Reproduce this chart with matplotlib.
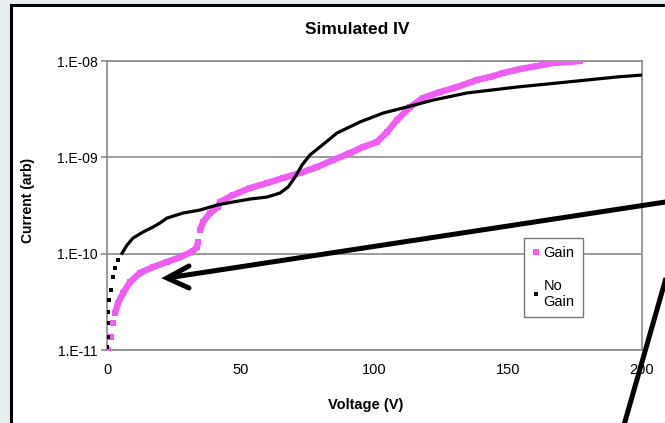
import matplotlib
matplotlib.use("Agg")
import matplotlib.pyplot as plt
from matplotlib.lines import Line2D
from matplotlib.patches import Rectangle
from matplotlib.ticker import FixedLocator, NullLocator
import numpy as np

plt.rcParams['font.family'] = ['Liberation Sans', 'DejaVu Sans']

# Simulated IV sweep: voltage (V) and current (arb)
gain_v = [0.5, 1.5, 2.1, 3.0, 4.1, 6.0, 8.6, 12.3, 17.2, 22.4, 27.3, 32.1, 33.6, 34.0,
          34.8, 35.9, 38.5, 41.5, 42.2, 47.1, 53.5, 59.8, 65.8, 72.1, 78.5, 84.5, 90.8,
          95.7, 100.9, 104.7, 108.4, 113.3, 118.1, 124.5, 130.8, 138.3, 143.2, 148.0,
          154.4, 160.7, 166.7, 173.1, 176.8]
gain_i = [1.0e-11, 1.36e-11, 1.9e-11, 2.4e-11, 3.07e-11, 3.9e-11, 5.07e-11, 6.3e-11,
          7.26e-11, 8.2e-11, 9.2e-11, 1.06e-10, 1.17e-10, 1.32e-10,
          1.76e-10, 2.13e-10, 2.64e-10, 3.05e-10, 3.44e-10, 4.06e-10, 4.8e-10, 5.41e-10,
          6.1e-10, 6.87e-10, 7.93e-10, 9.37e-10, 1.11e-9, 1.28e-9, 1.44e-9, 1.83e-9,
          2.44e-9, 3.33e-9, 4.13e-9, 4.77e-9, 5.37e-9, 6.35e-9, 6.83e-9, 7.5e-9,
          8.26e-9, 8.87e-9, 9.53e-9, 9.76e-9, 1.0e-8]

nogain_v = [0.1, 0.2, 0.3, 0.5, 0.8, 1.5, 2.2, 3.0, 4.1, 5.6, 7.5, 9.7, 13.5, 17.2,
            19.8, 22.4, 28.4, 34.8, 41.1, 47.1, 53.5, 59.8, 64.7, 67.7, 70.3, 72.9,
            75.9, 79.6, 86.0, 94.6, 103.2, 112.1, 121.9, 134.6, 153.3, 172.0, 190.7, 200.4]
nogain_i = [1.07e-11, 1.36e-11, 1.9e-11, 2.48e-11, 3.3e-11, 4.19e-11, 5.71e-11, 7.08e-11,
            8.58e-11, 1.01e-10, 1.23e-10, 1.45e-10, 1.68e-10, 1.89e-10, 2.08e-10,
            2.34e-10, 2.64e-10, 2.84e-10, 3.2e-10, 3.44e-10, 3.69e-10, 3.87e-10,
            4.26e-10, 4.92e-10, 6.24e-10, 8.31e-10, 1.06e-9, 1.28e-9, 1.79e-9, 2.33e-9,
            2.88e-9, 3.33e-9, 3.93e-9, 4.66e-9, 5.37e-9, 6.05e-9, 6.83e-9, 7.16e-9]

x_ticks = [0, 50, 100, 150, 200]
y_ticks = [1e-11, 1e-10, 1e-9, 1e-8]
y_tick_labels = ["1.E-11", "1.E-10", "1.E-09", "1.E-08"]

MAGENTA = "#ee5cf2"
GRID = "#8a8a8a"

W, H = 665, 423
fig = plt.figure(figsize=(W / 100, H / 100), dpi=100)
fig.patch.set_facecolor("#e8edf1")


def fx(px):
    return px / W


def fy(py):
    return 1 - py / H


# white chart sheet with a dark outline
fig.add_artist(Rectangle((fx(11), fy(440)), fx(700) - fx(11), fy(5) - fy(440),
                         transform=fig.transFigure, facecolor="white",
                         edgecolor="black", linewidth=2.2, zorder=0))

ax = fig.add_axes([fx(107), fy(350), fx(642) - fx(107), fy(61) - fy(350)])
ax.set_facecolor("white")
ax.set_yscale("log")
ax.set_xlim(0, 200)
ax.set_ylim(1e-11, 1e-8)
ax.xaxis.set_major_locator(FixedLocator(x_ticks))
ax.yaxis.set_major_locator(FixedLocator(y_ticks))
ax.yaxis.set_minor_locator(NullLocator())
ax.set_xticklabels([str(t) for t in x_ticks])
ax.set_yticklabels(y_tick_labels)
ax.tick_params(axis="y", length=4, width=1.2, color=GRID, labelsize=10, pad=3)
ax.tick_params(axis="x", length=0, labelsize=10.5, pad=9)
ax.grid(axis="y", color=GRID, linewidth=1.2)
ax.set_axisbelow(True)
for sp in ax.spines.values():
    sp.set_color(GRID)
    sp.set_linewidth(1.2)

# Gain: square markers, dense enough to read as a thick band
gv = np.array(gain_v)
gi = np.array(gain_i)
jump = 14
seg_a = (np.arange(len(gv)) < jump) & (gv >= 3)
seg_b = np.arange(len(gv)) >= jump
ax.plot(gv[seg_a], gi[seg_a], color=MAGENTA, linewidth=4.6, solid_capstyle="butt",
        solid_joinstyle="round", zorder=3)
ax.plot(gv[seg_b], gi[seg_b], color=MAGENTA, linewidth=4.6, solid_capstyle="butt",
        solid_joinstyle="round", zorder=3)
ax.plot(gv, gi, linestyle="none", marker="s", markersize=4.4, color=MAGENTA,
        markeredgewidth=0, zorder=3)

# No Gain: small black squares
nv = np.array(nogain_v)
ni = np.array(nogain_i)
ax.plot(nv[nv >= 5], ni[nv >= 5], color="black", linewidth=2.3, zorder=4,
        solid_joinstyle="round")
ax.plot(nv[nv < 5], ni[nv < 5], linestyle="none", marker="s", markersize=2.3,
        color="black", markeredgewidth=0, zorder=4)

h_gain = Line2D([], [], linestyle="none", marker="s", markersize=5, color=MAGENTA,
                markeredgewidth=0)
h_nogain = Line2D([], [], linestyle="none", marker="s", markersize=2.5, color="black",
                  markeredgewidth=0)
leg = ax.legend([h_gain, h_nogain], ["Gain", "No\nGain"], loc="upper left",
                bbox_to_anchor=(fx(524), fy(238)), bbox_transform=fig.transFigure,
                borderaxespad=0, fontsize=10.5, handlelength=0.5, handletextpad=0.3,
                labelspacing=1.3, borderpad=0.55, fancybox=False, framealpha=1,
                edgecolor="#777777")
leg.get_frame().set_linewidth(1.0)

fig.text(fx(357), fy(30), "Simulated IV", ha="center", va="center",
         fontsize=12.5, fontweight="bold")
fig.text(fx(28), fy(200), "Current (arb)", ha="center", va="center",
         rotation=90, fontsize=10, fontweight="bold")
fig.text(fx(366), fy(405), "Voltage (V)", ha="center", va="center",
         fontsize=10.5, fontweight="bold")

# callout strokes drawn over the chart
lw = 3.6
fig.add_artist(Line2D([fx(167), fx(672)], [fy(278), fy(201)], transform=fig.transFigure,
                      color="black", linewidth=lw, solid_capstyle="butt", zorder=10))
fig.add_artist(Line2D([fx(189), fx(167), fx(189)], [fy(266), fy(278), fy(288)],
                      transform=fig.transFigure, color="black", linewidth=lw,
                      solid_joinstyle="miter", solid_capstyle="round", zorder=10))
fig.add_artist(Line2D([fx(670), fx(622)], [fy(264), fy(432)], transform=fig.transFigure,
                      color="black", linewidth=lw, solid_capstyle="butt", zorder=10))

fig.savefig("out.png", dpi=100)
